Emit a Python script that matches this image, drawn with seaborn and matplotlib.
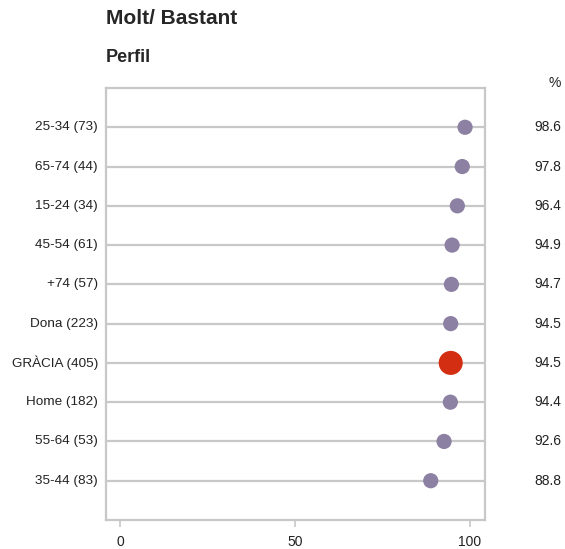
import matplotlib
matplotlib.use('Agg')
import matplotlib.pyplot as plt
import seaborn as sns
import pandas as pd

# data
labels = ['25-34 (73)', '65-74 (44)', '15-24 (34)', '45-54 (61)', '+74 (57)',
          'Dona (223)', 'GRÀCIA (405)', 'Home (182)', '55-64 (53)', '35-44 (83)']
values = [98.6, 97.8, 96.4, 94.9, 94.7, 94.5, 94.5, 94.4, 92.6, 88.8]
highlight = 'GRÀCIA (405)'

sns.set_style('white')
plt.rcParams['font.family'] = ['Liberation Sans', 'DejaVu Sans']

df = pd.DataFrame({'label': labels, 'value': values})
df['pos'] = range(len(df))
df['total'] = df['label'] == highlight

fig = plt.figure(figsize=(5.65, 5.49), dpi=100)
ax = fig.add_axes([106 / 565, 1 - 520 / 549, (485 - 106) / 565, (520 - 88) / 549])

grid_col = '#c8c8c8'
ax.hlines(df['pos'], -4, 104.3, color=grid_col, lw=1.6, zorder=1)

sns.scatterplot(data=df[~df['total']], x='value', y='pos', ax=ax, color='#8c80a3',
                s=120, edgecolor='none', zorder=3, legend=False)
sns.scatterplot(data=df[df['total']], x='value', y='pos', ax=ax, color='#d42e12',
                s=300, edgecolor='none', zorder=3, legend=False)

ax.set_xlim(-4, 104.3)
ax.set_ylim(10, -1)
ax.set_xticks([0, 50, 100])
ax.set_xticklabels(['0', '50', '100'], fontsize=10)
ax.set_yticks([])
ax.set_xlabel('')
ax.set_ylabel('')
for s in ax.spines.values():
    s.set_color(grid_col)
    s.set_linewidth(1.6)
ax.tick_params(axis='x', length=5, width=1.2, color=grid_col, pad=6, bottom=True,
               labelcolor='#222222')

for _, r in df.iterrows():
    ax.text(-6.3, r['pos'], r['label'], ha='right', va='center', fontsize=9.7, color='#222222')
    ax.text(126, r['pos'], f"{r['value']:.1f}", ha='right', va='center', fontsize=10,
            color='#222222', clip_on=False)
ax.text(126, -1.12, '%', ha='right', va='center', fontsize=10, color='#222222', clip_on=False)

fig.text(106 / 565, 1 - 18 / 549, 'Molt/ Bastant', ha='left', va='center',
         fontsize=15, fontweight='bold')
fig.text(106 / 565, 1 - 57 / 549, 'Perfil', ha='left', va='center',
         fontsize=13, fontweight='bold')

plt.savefig('out.png', dpi=100)
